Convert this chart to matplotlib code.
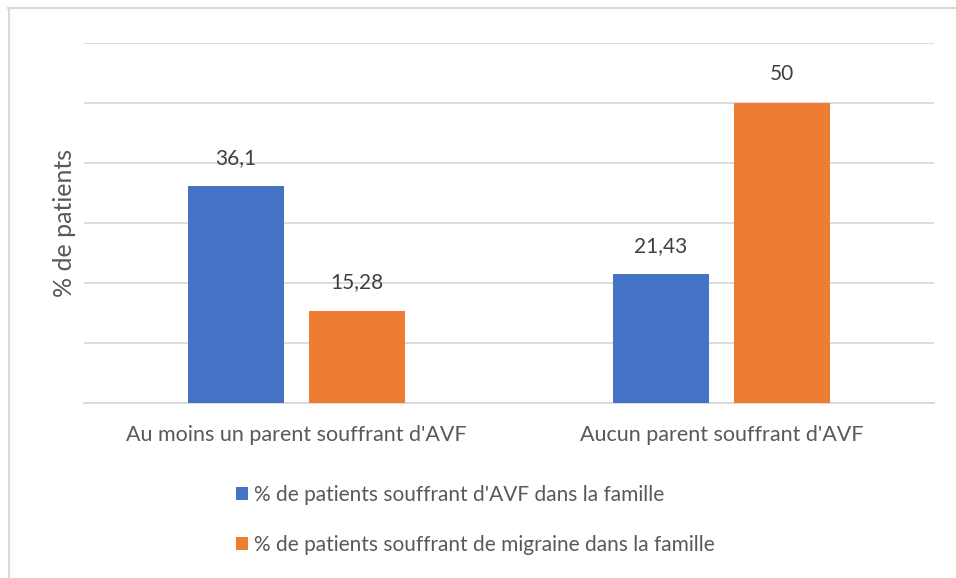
import numpy as np
import matplotlib.pyplot as plt
from matplotlib.lines import Line2D

plt.rcParams['font.family'] = ['Lato', 'DejaVu Sans']

categories = ["Au moins un parent souffrant d'AVF", "Aucun parent souffrant d'AVF"]
series_names = ["% de patients souffrant d'AVF dans la famille",
                "% de patients souffrant de migraine dans la famille"]
avf_values = [36.1, 21.43]
migraine_values = [15.28, 50]

blue = '#4472C4'
orange = '#ED7D31'
grey_text = '#595959'
grid_col = '#D9D9D9'

fig = plt.figure(figsize=(9.56, 5.78), dpi=100)
ax = fig.add_axes([84/956, 1 - 403/578, 850/956, 360/578])

x = np.arange(len(categories))
width = 0.226
off = 0.1424
b1 = ax.bar(x - off, avf_values, width, color=blue, label=series_names[0], zorder=3)
b2 = ax.bar(x + off, migraine_values, width, color=orange, label=series_names[1], zorder=3)

def fmt(v):
    return ('%g' % v).replace('.', ',')

for bars, vals in [(b1, avf_values), (b2, migraine_values)]:
    ax.bar_label(bars, labels=[fmt(v) for v in vals], padding=13.5,
                 fontsize=15, color='#404040')

ax.set_xlim(-0.5, 1.5)
ax.set_ylim(0, 60)
ax.set_yticks(np.arange(0, 61, 10))
ax.set_yticklabels([])
ax.tick_params(axis='y', length=0)
ax.tick_params(axis='x', length=0, pad=16, labelsize=15.5, labelcolor=grey_text)
ax.set_xticks(x)
ax.set_xticklabels(categories)
ax.grid(axis='y', color=grid_col, linewidth=1.3, zorder=0)
for s in ['top', 'right', 'left']:
    ax.spines[s].set_visible(False)
ax.spines['bottom'].set_color(grid_col)
ax.spines['bottom'].set_linewidth(1.3)

ax.set_ylabel('% de patients', fontsize=18, color=grey_text, labelpad=2)

fig.legend(handles=[b1, b2], labels=series_names, loc='upper left',
           bbox_to_anchor=(217/956, 1 - 466/578), frameon=False,
           fontsize=15, labelcolor=grey_text, handlelength=0.6,
           handleheight=0.6, handletextpad=0.3, labelspacing=1.45)

# outer frame (top and left edges only)
fig.add_artist(Line2D([8/956, 1], [1 - 7.5/578, 1 - 7.5/578], color=grid_col,
                      linewidth=1.5, transform=fig.transFigure))
fig.add_artist(Line2D([8.5/956, 8.5/956], [0, 1 - 7.5/578], color=grid_col,
                      linewidth=1.5, transform=fig.transFigure))

fig.savefig('out.png', dpi=100)
